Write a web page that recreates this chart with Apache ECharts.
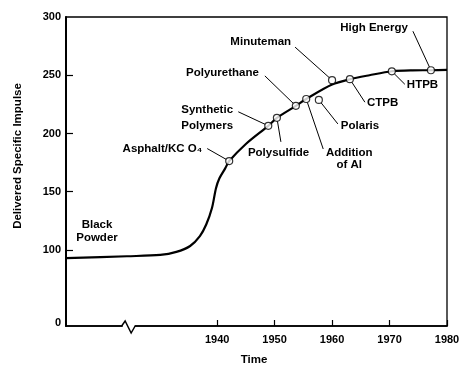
<!DOCTYPE html>
<html><head><meta charset="utf-8">
<script src="https://cdn.jsdelivr.net/npm/echarts@6/dist/echarts.min.js"></script>
<style>html,body{margin:0;padding:0;background:#fff}#c{width:466px;height:371px}</style>
</head><body><div id="c"></div>
<script>
// ---- data ----
const curveYears  = [1913.7, 1924.3, 1930.1, 1932.9, 1935.3, 1937.0, 1938.1, 1939.1, 1939.8, 1940.4, 1941.4, 1942.1, 1945.0, 1948.9, 1950.4, 1953.7, 1955.5, 1960.0, 1963.1, 1966.5, 1970.4, 1974.0, 1977.2, 1980.0];
const curveValues = [92.9, 94.6, 95.7, 98.3, 103.4, 111.9, 121.8, 136, 153, 161.5, 170, 176.3, 191, 206.6, 213.4, 223.7, 229.6, 242, 246.6, 250, 253.4, 254.2, 254.3, 254.6];
const markerNames  = ['Asphalt/KC O\u2084', 'Synthetic\nPolymers', 'Polysulfide', 'Polyurethane', 'Addition\nof Al', 'Polaris', 'Minuteman', 'CTPB', 'HTPB', 'High Energy'];
const markerYears  = [1942.1, 1948.9, 1950.4, 1953.7, 1955.5, 1957.7, 1960.0, 1963.1, 1970.4, 1977.2];
const markerValues = [176.3, 206.6, 213.4, 223.7, 229.6, 228.8, 245.8, 246.6, 253.4, 254.3];
const curveNote = 'Black\nPowder';
const xTickYears = [1940, 1950, 1960, 1970, 1980];
const yTickValues = [0, 100, 150, 200, 250, 300];
const xTitle = 'Time';
const yTitle = 'Delivered Specific Impulse';

// ---- layout (pixel offsets of annotation text / leader start from its point) ----
const annoLayout = [
  {t: [-27, -12.5], align: 'right', l: [-22, -12.5]},
  {t: [-87, -8], align: 'left', l: [-30, -14], lh: 16},
  {t: [-29, 35], align: 'left', l: [4, 24]},
  {t: [-37, -33], align: 'right', l: [-31, -30]},
  {t: [43, 60], align: 'center', l: [17, 50], lh: 12},
  {t: [22, 26], align: 'left', l: [19, 24]},
  {t: [-41, -38], align: 'right', l: [-37, -33]},
  {t: [17, 24], align: 'left', l: [15, 23]},
  {t: [15, 14], align: 'left', l: [13, 13]},
  {t: [-23, -42], align: 'right', l: [-18, -39]}
];
const noteLayout = {t: [31, -26.5], align: 'center', lh: 13};
const yMin = 34.7, yMax = 300, xMin = 1913.7, xMax = 1980;
const yZeroAt = 37.5;    // broken axis: "0" drawn at the foot of the axis
const xBreakAt = 1924.6; // position of the break mark on the time axis

const FONT = 'Liberation Sans';
const annoData = markerNames.map((n, i) => [markerYears[i], markerValues[i], i]);
annoData.push([curveYears[0], curveValues[0], -1]);

const chart = echarts.init(document.getElementById('c'), null, {renderer: 'canvas'});
chart.setOption({
  animation: false,
  backgroundColor: '#fff',
  grid: {left: 66, right: 19, top: 17, bottom: 42, show: true, borderColor: '#000', borderWidth: 1.3, backgroundColor: 'transparent'},
  xAxis: {
    type: 'value', min: xMin, max: xMax,
    axisLine: {show: true, lineStyle: {color: '#000', width: 1.6}},
    axisTick: {show: true, inside: true, length: 6, customValues: xTickYears, lineStyle: {color: '#000', width: 1.2}},
    axisLabel: {customValues: xTickYears, margin: 8, color: '#000', fontSize: 11, fontWeight: 'bold', fontFamily: FONT, formatter: v => String(Math.round(v))},
    splitLine: {show: false},
    name: xTitle, nameLocation: 'middle', nameGap: 28,
    nameTextStyle: {color: '#000', fontSize: 11.5, fontWeight: 'bold', fontFamily: FONT, padding: [0, 5, 0, 0]}
  },
  yAxis: {
    type: 'value', min: yMin, max: yMax,
    axisLine: {show: true, lineStyle: {color: '#000', width: 2}},
    axisTick: {show: true, inside: true, length: 7, customValues: yTickValues.filter(v => v > 0 && v < 300), lineStyle: {color: '#000', width: 1.2}},
    axisLabel: {customValues: yTickValues.map(v => v === 0 ? yZeroAt : v), margin: 5, color: '#000', fontSize: 11, fontWeight: 'bold', fontFamily: FONT,
      formatter: v => v < 50 ? '0' : String(Math.round(v))},
    splitLine: {show: false},
    name: yTitle, nameLocation: 'middle', nameGap: 42,
    nameTextStyle: {color: '#000', fontSize: 11.5, fontWeight: 'bold', fontFamily: FONT, padding: [0, 0, 0, 31]}
  },
  series: [
    {
      type: 'line', data: curveYears.map((y, i) => [y, curveValues[i]]),
      showSymbol: false, smooth: 0.3,
      lineStyle: {color: '#000', width: 2.2}, z: 2, silent: true
    },
    {
      type: 'custom', coordinateSystem: 'cartesian2d', data: annoData, z: 3, clip: false, silent: true,
      renderItem: (params, api) => {
        const i = api.value(2);
        const p = api.coord([api.value(0), api.value(1)]);
        const L = i >= 0 ? annoLayout[i] : noteLayout;
        const text = i >= 0 ? markerNames[i] : curveNote;
        const ch = [];
        if (L.l) {
          const sx = p[0] + L.l[0], sy = p[1] + L.l[1];
          const dx = p[0] - sx, dy = p[1] - sy, d = Math.hypot(dx, dy), r = 3.5;
          ch.push({type: 'line', shape: {x1: sx, y1: sy, x2: p[0] - dx / d * r, y2: p[1] - dy / d * r}, style: {stroke: '#000', lineWidth: 1}});
        }
        ch.push({type: 'text', x: p[0] + L.t[0], y: p[1] + L.t[1],
          style: {text: text, fill: '#000', fontSize: 11.5, fontWeight: 'bold', fontFamily: FONT,
            align: L.align, verticalAlign: 'middle', lineHeight: L.lh || 14}});
        return {type: 'group', children: ch};
      }
    },
    {
      type: 'scatter', data: markerYears.map((y, i) => [y, markerValues[i]]),
      symbol: 'circle', symbolSize: 7, z: 4, silent: true,
      itemStyle: {color: '#fff', borderColor: '#000', borderWidth: 1.2}
    }
  ]
});

// axis break mark on the time axis
const bp = chart.convertToPixel({gridIndex: 0}, [xBreakAt, yMin]);
chart.setOption({
  graphic: [
    {type: 'rect', shape: {x: bp[0] - 6, y: bp[1] - 2, width: 12, height: 4}, style: {fill: '#fff'}, z: 100},
    {type: 'polyline', shape: {points: [[bp[0] - 7, bp[1]], [bp[0] - 3.5, bp[1] - 5], [bp[0] + 2.5, bp[1] + 7], [bp[0] + 6.5, bp[1]]]},
      style: {stroke: '#000', lineWidth: 1.5, fill: 'none'}, z: 101}
  ]
});
</script>
</body></html>
